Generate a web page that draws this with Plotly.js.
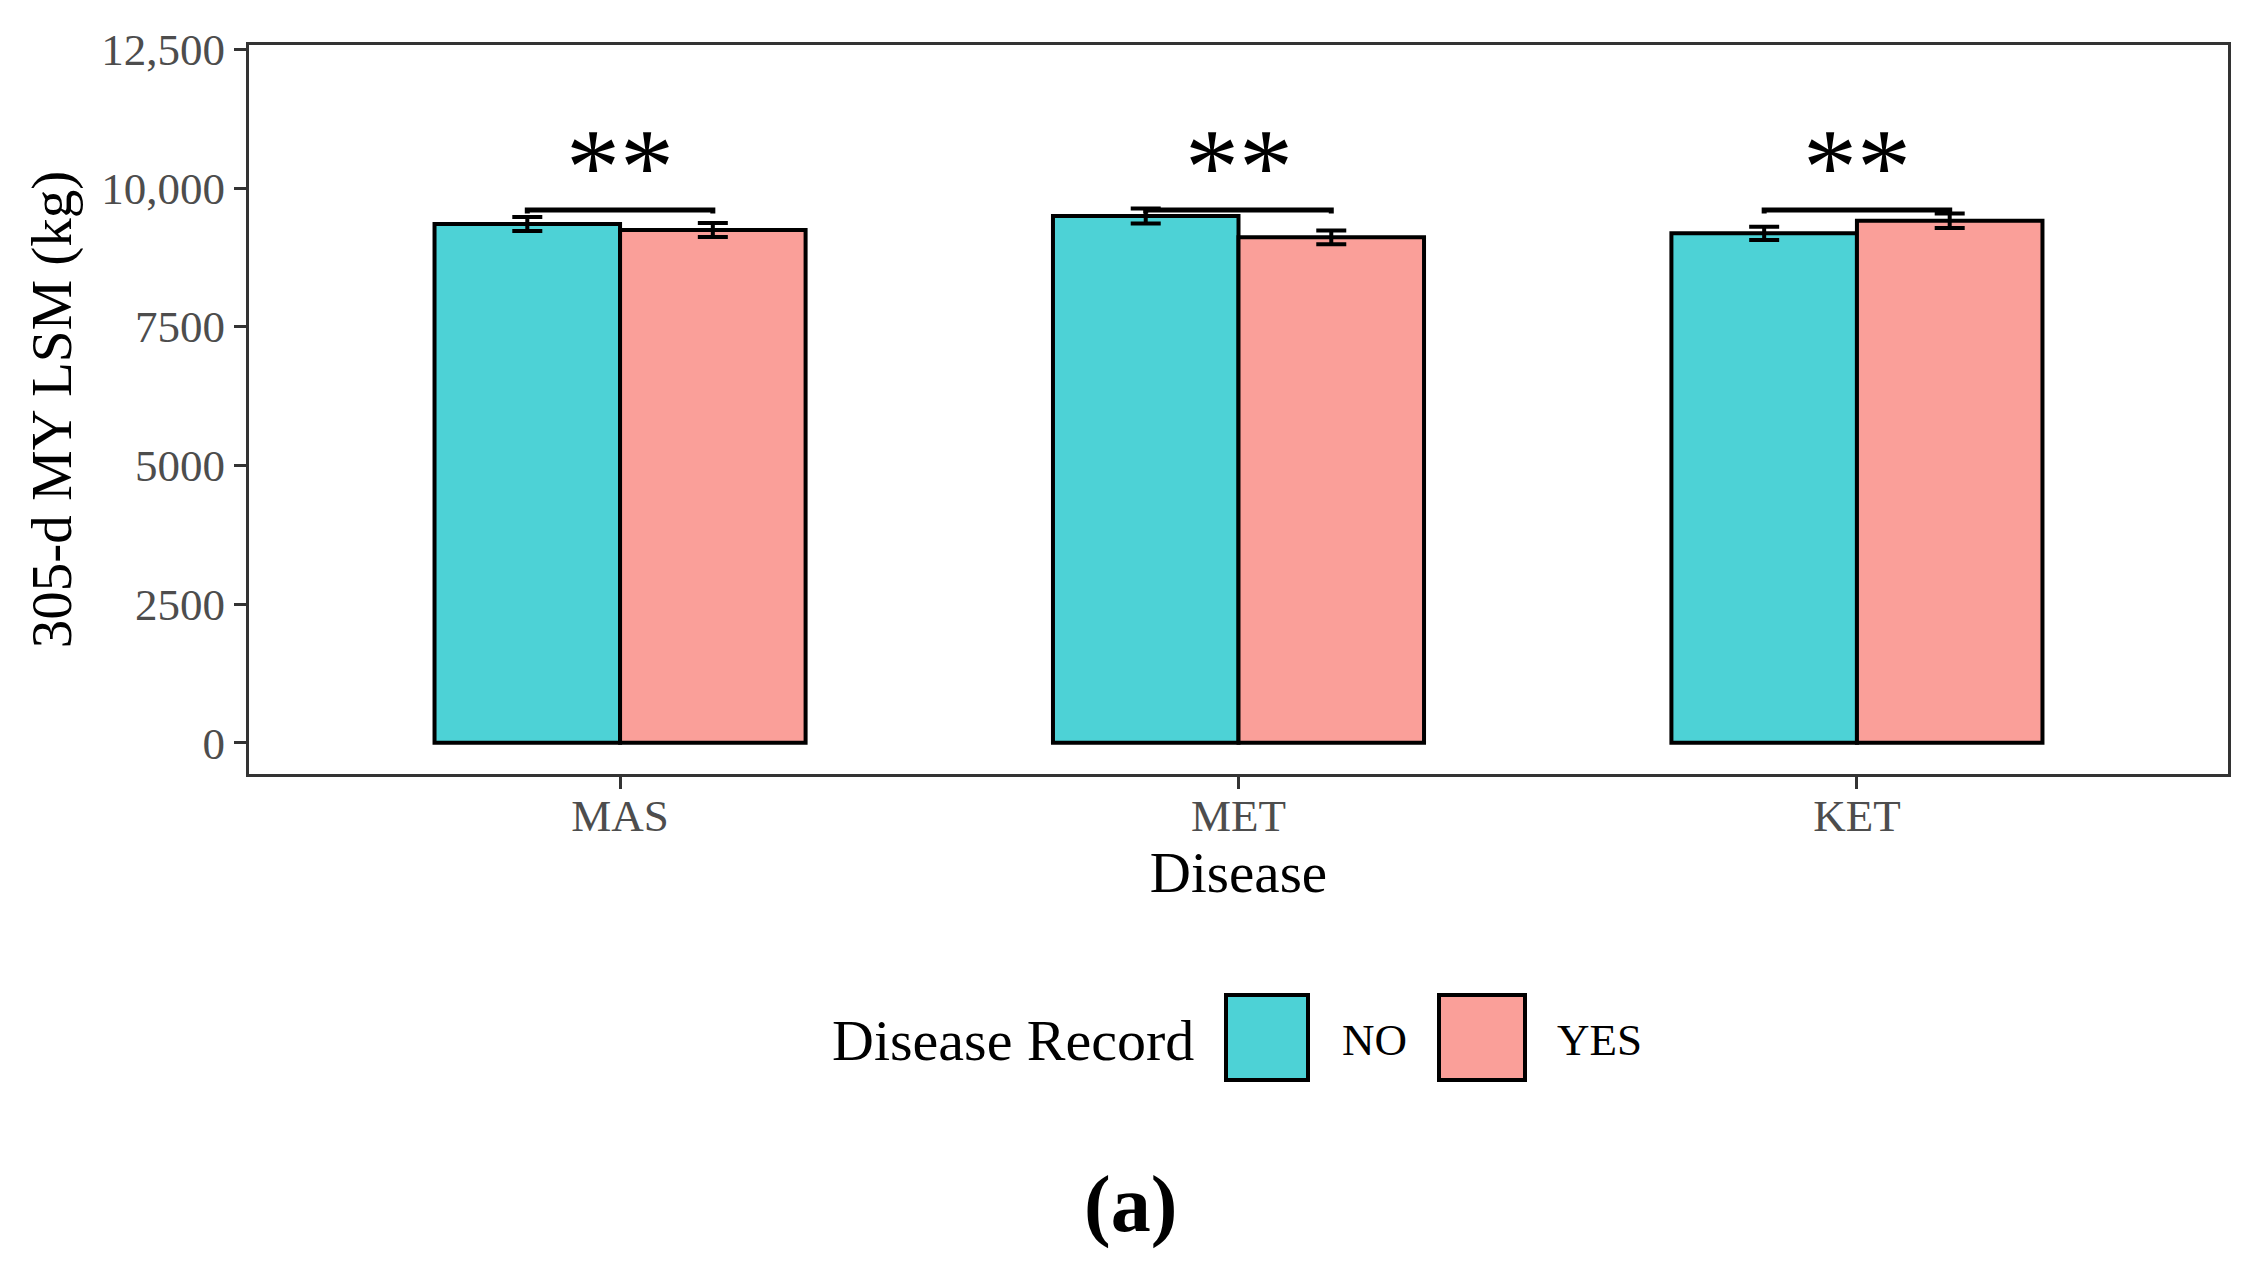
<!DOCTYPE html>
<html>
<head>
<meta charset="utf-8">
<script src="https://cdn.plot.ly/plotly-3.0.1.min.js"></script>
<style>html,body{margin:0;padding:0;background:#fff;}#chart{width:2261px;height:1281px;}</style>
</head>
<body>
<div id="chart"></div>
<script>
// ---- data ----
const categories = ['MAS', 'MET', 'KET'];
const seriesNames = ['NO', 'YES'];
const noValues = [9351, 9495, 9183];
const yesValues = [9243, 9111, 9411];
const noSE = [125, 135, 120];
const yesSE = [125, 125, 130];
const signifLabels = ['**', '**', '**'];
const bracketY = [9603, 9603, 9603];
const yTickVals = [0, 2500, 5000, 7500, 10000, 12500];
const yTickText = ['0', '2500', '5000', '7500', '10,000', '12,500'];
const colors = ['#4DD2D6', '#FA9F99'];

// ---- layout constants ----
const W = 2261, H = 1281;
const M = {l: 249, r: 33, t: 45, b: 507};
const FONT = 'Liberation Serif, Times New Roman, serif';
const barW = 0.3;
const xIdx = categories.map((c, i) => i);
const pw = W - M.l - M.r, ph = H - M.t - M.b;
const px2x = p => (p - M.l) / pw;
const px2y = p => (H - M.b - p) / ph;

const traces = [];
[noValues, yesValues].forEach((vals, s) => {
  const se = s === 0 ? noSE : yesSE;
  traces.push({
    type: 'bar', name: seriesNames[s], x: xIdx, y: vals,
    width: barW, offset: s === 0 ? -barW : 0,
    marker: {color: colors[s], line: {color: '#000', width: 4}},
    error_y: {type: 'data', array: se, visible: true, color: '#000', thickness: 4, width: 15},
    showlegend: false, hoverinfo: 'skip'
  });
});
// significance brackets
const tip = 60;
categories.forEach((c, i) => {
  traces.push({
    type: 'scatter', mode: 'lines',
    x: [i - barW / 2, i - barW / 2, i + barW / 2, i + barW / 2],
    y: [bracketY[i] - tip, bracketY[i], bracketY[i], bracketY[i] - tip],
    line: {color: '#000', width: 5},
    showlegend: false, hoverinfo: 'skip'
  });
});

const annotations = categories.map((c, i) => ({
  x: i, y: 10577, xref: 'x', yref: 'y', text: signifLabels[i], showarrow: false,
  xanchor: 'center', yanchor: 'middle', yshift: -10,
  font: {family: FONT, size: 108, color: '#000'}
}));

// manual legend
const legY0 = 995, legY1 = 1080;
const boxes = [[1226, 1308], [1439, 1525]];
const shapes = boxes.map((b, s) => ({
  type: 'rect', xref: 'paper', yref: 'paper',
  x0: px2x(b[0]), x1: px2x(b[1]), y0: px2y(legY1), y1: px2y(legY0),
  fillcolor: colors[s], line: {color: '#000', width: 4}
}));
annotations.push({
  xref: 'paper', yref: 'paper', x: px2x(830), y: px2y(1040), xanchor: 'left', yanchor: 'middle',
  text: 'Disease Record', showarrow: false, font: {family: FONT, size: 58, color: '#000'}
});
[1340, 1555].forEach((lx, s) => annotations.push({
  xref: 'paper', yref: 'paper', x: px2x(lx), y: px2y(1040), xanchor: 'left', yanchor: 'middle',
  text: seriesNames[s], showarrow: false, font: {family: FONT, size: 45, color: '#000'}
}));
annotations.push({
  xref: 'paper', yref: 'paper', x: px2x(1130), y: px2y(1204), xanchor: 'center', yanchor: 'middle',
  text: '<b>(a)</b>', showarrow: false, font: {family: FONT, size: 80, color: '#000'}
});

const layout = {
  width: W, height: H, margin: M,
  paper_bgcolor: '#fff', plot_bgcolor: '#fff',
  showlegend: false,
  font: {family: FONT},
  xaxis: {
    type: 'linear', range: [-0.6, 2.6], tickvals: xIdx, ticktext: categories,
    showgrid: false, zeroline: false, showline: true, mirror: true, linecolor: '#333', linewidth: 3,
    ticks: 'outside', ticklen: 12, tickwidth: 3, tickcolor: '#333',
    ticklabelstandoff: -12,
    tickfont: {family: FONT, size: 45, color: '#4D4D4D'},
    title: {text: 'Disease', font: {family: FONT, size: 57, color: '#000'}, standoff: 12}
  },
  yaxis: {
    range: [-562, 12578], tickvals: yTickVals, ticktext: yTickText,
    showgrid: false, zeroline: false, showline: true, mirror: true, linecolor: '#333', linewidth: 3,
    ticks: 'outside', ticklen: 12, tickwidth: 3, tickcolor: '#333',
    tickfont: {family: FONT, size: 45, color: '#4D4D4D'},
    title: {text: '305-d MY LSM (kg)', font: {family: FONT, size: 57, color: '#000'}, standoff: 12}
  },
  shapes: shapes,
  annotations: annotations
};

Plotly.newPlot('chart', traces, layout, {displayModeBar: false, staticPlot: true});
</script>
</body>
</html>
